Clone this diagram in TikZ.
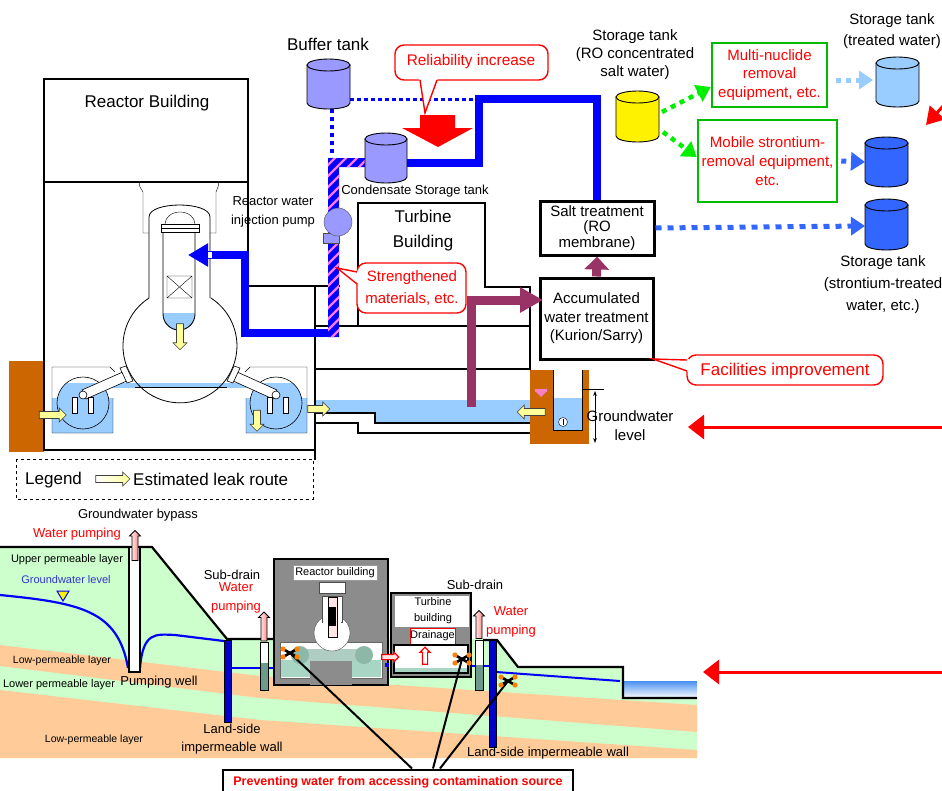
\documentclass[tikz,border=0pt]{standalone}
\usepackage{fontspec}
\setmainfont{Liberation Sans}
\usetikzlibrary{arrows.meta,shapes.arrows}
\definecolor{water}{HTML}{99CCFF}
\definecolor{lilac}{HTML}{9999FF}
\definecolor{leakfill}{HTML}{FFFF99}
\definecolor{soil}{HTML}{CC6600}
\definecolor{plum}{HTML}{993366}
\definecolor{tankblue}{HTML}{3366FF}
\definecolor{boxgreen}{HTML}{00BB00}
\definecolor{dotgreen}{HTML}{00EE00}
\definecolor{permeable}{HTML}{CCFFCC}
\definecolor{clay}{HTML}{FFCC99}
\definecolor{bldggrey}{HTML}{8C8C8C}
\definecolor{pool}{HTML}{A9D5C4}
\definecolor{torusgrey}{HTML}{8DB8A8}
\definecolor{wallblue}{HTML}{0000CC}
\definecolor{gwblue}{HTML}{3333CC}
\definecolor{stripe}{HTML}{FF77EE}
\definecolor{welltone}{HTML}{6E9A8C}
\definecolor{seablue}{HTML}{4A90F0}
\newcommand\fs[2]{\fontsize{#1}{#2}\selectfont}
% cylinder tank: left, right, top, bottom, colour
\newcommand\drum[5]{%
  \pgfmathsetmacro\drumcx{(#1+#2)/2}%
  \pgfmathsetmacro\drumrx{(#2-#1)/2}%
  \filldraw[fill=#5,draw=black,line width=0.9pt] (#1,#3+6) -- (#1,#4-6)
    arc[start angle=180,end angle=360,x radius=\drumrx pt,y radius=6pt] -- (#2,#3+6) -- cycle;
  \filldraw[fill=#5,draw=black,line width=0.9pt] (\drumcx,#3+6) ellipse[x radius=\drumrx pt,y radius=6pt];
}
% contamination source mark
\newcommand\leakmark[1]{%
  \begin{scope}[shift={#1}]
    \draw[line width=2.6pt] (-7,-4) -- (7,4) (-7,4) -- (7,-4);
    \fill[orange] (-7,-4) circle (2.6pt) (7,4) circle (2.6pt) (-7,4) circle (2.6pt) (7,-4) circle (2.6pt);
  \end{scope}}
\tikzset{
  wall/.style={line width=1.3pt},
  leak/.style={single arrow, draw=black!75, fill=leakfill, line width=0.6pt,
    minimum height=#1, inner sep=3.2pt, single arrow head extend=3.5pt},
  pumpup/.style={single arrow, draw=black, line width=0.8pt, left color=white,
    right color=red!55, minimum height=#1, inner sep=2.6pt,
    single arrow head extend=2.5pt, rotate=90},
  callout/.style={draw=red, line width=1.4pt, fill=white, rounded corners=9pt},
  flow/.style={line width=8pt, blue},
  plumflow/.style={line width=9pt, plum},
  dotflow/.style={line width=4.5pt, dash pattern=on 5pt off 5pt},
  bigred/.style={red, line width=3pt, -{Triangle[length=16pt,width=24pt]}},
  lbl/.style={inner sep=0pt, align=center},
  procbox/.style={draw, line width=3pt, fill=white, inner sep=0pt, align=center},
  greenbox/.style={draw=boxgreen, line width=2.5pt, fill=white, inner sep=0pt,
    align=center, text=red},
  thinline/.style={line width=0.6pt},
}
\begin{document}
\begin{tikzpicture}[x=1pt,y=-1pt]
\clip (0,0) rectangle (942,790);
\fill[white] (0,0) rectangle (942,790);

%% ---------------- reactor building (section) ----------------
\fill[soil] (9,361) rectangle (44,452);
\begin{scope}
  \clip (40,383) rectangle (320,440);
  \fill[water] (83,403) circle (26pt) (276,403) circle (26pt);
\end{scope}
\fill[water] (52,398) rectangle (113,433) (246,398) rectangle (307,433);
\fill[water] (110,383) rectangle (250,388);

\draw[wall] (44,79) rectangle (248,182);
\node[lbl, font=\fs{17}{20}] (rbtitle) at (147,103) {Reactor Building};
\draw[wall] (44,182) -- (44,450) -- (315,450);
\draw[wall] (248,182) -- (248,286) -- (340,286);
\draw[wall] (315,286) -- (315,460);

% shield plug opening
\draw (139,182) -- (140,187) -- (143,192) -- (143,233) -- (149,233);
\draw (219,182) -- (218,187) -- (216,192) -- (216,233) -- (210,233);
% drywell
\draw[line width=0.8pt] (210,298) -- (210,217) .. controls (210,201) and (149,201) .. (149,217)
  -- (149,298) arc[start angle=122.9,end angle=417.1,radius=57pt];
\draw (135,387) -- (227,387);
% suppression chambers
\draw (113,398) -- (113,433) -- (52,433) -- (52,367) -- (110,367) -- (115,372);
\draw (246,398) -- (246,433) -- (307,433) -- (307,367) -- (250,367) -- (245,372);
\draw[thinline] (83,403) circle (26pt) (276,403) circle (26pt);
\filldraw[fill=white, thinline] (125,371) -- (129,380) -- (86,399) -- (82,390) -- cycle;
\filldraw[fill=white, thinline] (235,371) -- (231,380) -- (273,399) -- (277,390) -- cycle;
\filldraw[fill=white, thinline] (120,368) -- (126,366) -- (133,381) -- (127,383) -- cycle;
\filldraw[fill=white, thinline] (240,368) -- (234,366) -- (227,381) -- (233,383) -- cycle;
\filldraw[fill=white, thinline] (72,397) rectangle (77,413) (88,397) rectangle (93,413);
\filldraw[fill=white, thinline] (267,397) rectangle (272,413) (283,397) rectangle (288,413);
\filldraw[fill=white, thinline] (83,395) circle (4pt) (276,395) circle (4pt);
% pressure vessel
\fill[water] (163,313) -- (163,314) arc[start angle=180,end angle=360,radius=16pt] -- (195,313) -- cycle;
\draw[line width=0.9pt] (163,232) -- (163,314) arc[start angle=180,end angle=360,radius=16pt] -- (195,232);
\draw (165,224) arc[start angle=180,end angle=0,x radius=15pt,y radius=12pt];
\filldraw[fill=white, line width=0.9pt] (161,224) rectangle (199,232);
\draw (161,228) -- (199,228);
\draw (167,276) rectangle (192,298) (167,276) -- (192,298) (167,298) -- (192,276);

%% ---------------- turbine building and trench ----------------
\fill[water] (316,400) -- (530,400) -- (530,423) -- (375,423) -- (375,413) -- (316,413) -- cycle;
\draw[wall] (316,369) -- (530,369);
\draw[wall] (316,413) -- (375,413) -- (375,423) -- (530,423);
\draw[wall] (316,423) -- (358,423) -- (358,433) -- (530,433);
\draw[wall] (358,326) -- (358,203) -- (485,203) -- (485,287) -- (530,287) -- (530,370);
\draw[wall] (316,326) -- (530,326);
\node[lbl, font=\fs{17}{25}] (tbtxt) at (423,231) {Turbine\\Building};

% pit next to the turbine building
\fill[soil] (530,370) rectangle (589,444);
\fill[white] (553,370) rectangle (582,430);
\fill[water] (553,398) rectangle (582,430);
\draw (553,370) -- (553,430) -- (582,430) -- (582,370);
\fill[magenta!50] (535,389) rectangle (547,392);
\fill[magenta!50] (536,392) -- (546,392) -- (541,397) -- cycle;
\draw[fill=white] (563,422) circle (4.5pt);
\draw (563,419) -- (563,425);
\draw[line width=0.8pt] (582,389) -- (604,389);
\draw[line width=0.8pt, {Stealth[length=5pt]}-{Stealth[length=5pt]}] (595,391) -- (595,443);
\node[lbl, font=\fs{15}{19}] (gwl) at (630,426) {Groundwater\\level};

% leak routes
\node[leak=27pt] (lk1) at (51,415) {};
\node[leak=26pt, rotate=-90] (lk2) at (180,335) {};
\node[leak=21pt, rotate=-90] (lk3) at (257,419) {};
\node[leak=22pt] (lk4) at (317,409) {};
\node[leak=28pt, rotate=180] (lk5) at (533,412) {};

%% ---------------- water circulation ----------------
\node[procbox, minimum width=114pt, minimum height=54pt, font=\fs{15}{15.5}] (salt)
  at (597,228) {Salt treatment\\(RO\\membrane)};
\node[procbox, minimum width=113pt, minimum height=81pt, font=\fs{15}{18.5}] (kur)
  at (596.5,318.5) {Accumulated\\water treatment\\(Kurion/Sarry)};

\coordinate (cstout) at (407,163);
\draw[flow] (cstout) -- (479,163) -- (479,99) -- (597,99) -- (salt.north);
\draw[blue, line width=3pt, dash pattern=on 3.5pt off 3.5pt] (350,99) -- (475,99);
\draw[blue, line width=4pt, dash pattern=on 4pt off 4pt] (332,109) -- (332,157);

% injection line into the vessel
\coordinate (injfrom) at (339,333);
\coordinate (injto) at (188,255);
\draw[flow, -{Triangle[length=20pt,width=22pt]}] (injfrom) -- (245,333) -- (245,255) -- (injto);
\fill[white] (208,252) rectangle (212,258);

% hose with reinforced material
\begin{scope}
  \clip (328,158) rectangle (339,337) (328,158) rectangle (368,167);
  \fill[blue] (320,150) rectangle (370,340);
  \foreach \k in {150,161,...,400} \draw[stripe, line width=2.2pt] (320,\k+12) -- (375,\k-43);
\end{scope}

% pump and tanks
\filldraw[fill=lilac, draw=black!70] (323,233) rectangle (339,243);
\filldraw[fill=lilac, draw=black!70] (338,222) circle (14pt);
\drum{307}{350}{59}{109}{lilac}
\drum{365}{407}{133}{183}{lilac}
\node[lbl, font=\fs{17}{20}] (buftxt) at (328,44) {Buffer tank};
\node[lbl, font=\fs{13}{15}] (csttxt) at (415,191) {Condensate Storage tank};
\node[lbl, font=\fs{13}{19}] (pumptxt) at (273,212) {Reactor water\\injection pump};

% reliability increase
\fill[red] (420,115) -- (455,115) -- (455,128) -- (473,128) -- (438,147) -- (402,128) -- (420,128) -- cycle;
\draw[callout] (395,45) rectangle (548,80);
\fill[white] (419,78) -- (425,113) -- (438,78) -- cycle;
\draw[red, line width=1.4pt] (420,80) -- (425,113) -- (437,80);
\node[lbl, red, font=\fs{15.4}{18}] (reltxt) at (471,62) {Reliability increase};

% strengthened materials
\draw[callout] (357,263) rectangle (466,313);
\fill[white] (360,271) -- (337,268) -- (360,285) -- cycle;
\draw[red, line width=1.4pt] (357,272) -- (337,268) -- (357,284);
\node[lbl, red, font=\fs{15}{22}] (strtxt) at (412,288) {Strengthened\\materials, etc.};

% treated water path
\coordinate (plumfrom) at (471,407);
\coordinate (plumto) at (543,300);
\draw[plumflow, -{Triangle[length=23pt,width=24pt]}] (plumfrom) -- (471,300) -- (plumto);
\draw[plumflow, -{Triangle[length=13pt,width=24pt]}] (kur.north) -- (salt.south);

% facilities improvement
\draw[callout] (687,355) rectangle (883,385);
\fill[white] (689,359) -- (653,359) -- (689,372) -- cycle;
\draw[red, line width=1.4pt] (687,360) -- (653,359) -- (687,371);
\node[lbl, red, font=\fs{17}{20}] (factxt) at (785,371) {Facilities improvement};

% groundwater inflow arrow
\coordinate (gwin) at (945,427);
\coordinate (gwtip) at (688,427);
\draw[bigred] (gwin) -- (gwtip);

%% ---------------- storage and removal ----------------
\drum{616}{659}{91}{142}{yellow}
\node[lbl, font=\fs{15}{18}] (rotxt) at (635,55) {Storage tank\\(RO concentrated\\salt water)};
\node[greenbox, minimum width=115pt, minimum height=64pt, font=\fs{15}{18.5}] (mnr)
  at (769.5,75) {Multi-nuclide\\removal\\equipment, etc.};
\node[greenbox, minimum width=139pt, minimum height=82pt, font=\fs{15}{19}] (mob)
  at (767.5,161) {Mobile strontium-\\removal equipment,\\etc.};
\coordinate (ro1) at (662,112);
\coordinate (ro2) at (663,132);
\draw[dotflow, dotgreen, -{Triangle[length=14pt,width=18pt]}] (ro1) -- ([yshift=-12pt]mnr.west);
\draw[dotflow, dotgreen, -{Triangle[length=14pt,width=18pt]}] (ro2) -- ([shift={(0pt,4pt)}]mob.west);

\drum{876}{919}{57}{107}{water}
\drum{865}{908}{137}{187}{tankblue}
\drum{865}{908}{199}{250}{tankblue}
\coordinate (tw) at (873,80);
\coordinate (sr1) at (865,162);
\coordinate (sr2) at (865,226);
\draw[water, line width=5pt, dash pattern=on 5pt off 5pt, -{Triangle[length=14pt,width=18pt]}]
  ([shift={(8pt,-5pt)}]mnr.east) -- (tw);
\draw[tankblue, line width=5pt, dash pattern=on 5pt off 5pt, -{Triangle[length=14pt,width=18pt]}]
  ([xshift=3pt]mob.east) -- (sr1);
\draw[tankblue, line width=5pt, dash pattern=on 6pt off 6pt, -{Triangle[length=14pt,width=18pt]}]
  (salt.east) -- (sr2);
\node[lbl, font=\fs{15}{21}] (twtxt) at (892,31) {Storage tank\\(treated water)};
\node[lbl, font=\fs{15}{22}] (srtxt) at (883,285) {Storage tank\\(strontium-treated\\water, etc.)};
\coordinate (rin) at (953,95);
\coordinate (rtip) at (926,125);
\draw[red, line width=3pt, -{Triangle[length=17pt,width=20pt]}] (rin) -- (rtip);

%% ---------------- legend ----------------
\draw[line width=0.8pt, dash pattern=on 3pt off 3pt] (16,459) rectangle (313,499);
\node[lbl, font=\fs{17}{20}, anchor=west] (legend) at (25,480) {Legend};
\node[leak=34pt, left color=white, right color=leakfill] (legar) at (111,479) {};
\node[lbl, font=\fs{17}{20}, anchor=west] (legtxt) at (133,479) {Estimated leak route};

%% ---------------- ground section ----------------
\fill[permeable] (0,547) -- (152,547) -- (227,639) -- (483,639) -- (497,640) -- (518,667)
  -- (623,667) -- (623,698) -- (697,698) -- (697,758) -- (0,758) -- cycle;
\fill[clay] (0,645) -- (260,676) -- (697,705) -- (697,732) -- (260,698) -- (0,666) -- cycle;
\fill[clay] (0,690) -- (260,720) -- (697,750) -- (697,758) -- (0,758) -- cycle;
\shade[top color=seablue, bottom color=white] (623,681) rectangle (697,698);
\draw[line width=2.2pt] (0,547) -- (152,547) -- (227,639) -- (274,639);
\draw[line width=2.2pt] (483,640) -- (497,640) -- (518,667) -- (623,667) -- (623,698) -- (697,698);

% groundwater table
\draw[blue, line width=2.2pt] (0,595) .. controls (80,603) and (118,610) .. (128,668);
\draw[blue, line width=2.2pt] (140,668) .. controls (143,632) and (155,634) .. (175,635) -- (224,641);
\draw[blue, line width=2pt] (231,668) -- (274,668);
\draw[blue, line width=2pt] (468,666) -- (489,666);
\draw[blue, line width=2pt] (496,672) -- (620,681);
\filldraw[fill=yellow, draw=blue, line width=1pt] (57,591) -- (69,591) -- (63,601) -- cycle;

% wells and walls
\filldraw[fill=white, line width=1.2pt] (129,547) rectangle (140,672);
\fill[white] (260,642) rectangle (268,663);
\fill[welltone] (260,663) rectangle (268,690);
\draw (260,642) rectangle (268,690);
\fill[white] (475,640) rectangle (483,665);
\fill[welltone] (475,665) rectangle (483,690);
\draw (475,640) rectangle (483,690);
\filldraw[fill=wallblue, draw=black, line width=0.8pt] (224,640) rectangle (231,722);
\filldraw[fill=wallblue, draw=black, line width=0.8pt] (489,640) rectangle (496,747);
\node[pumpup=30pt] (pw1) at (135,547) {};
\node[pumpup=29pt] (pw2) at (264,628) {};
\node[pumpup=28pt] (pw3) at (479,626) {};

% reactor building (small)
\filldraw[fill=bldggrey, draw=black, line width=2pt] (274,559) rectangle (388,685);
\filldraw[fill=white, draw=black!60, line width=0.5pt] (280,642) rectangle (382,678);
\fill[pool] (281,660) rectangle (381,677);
\fill[torusgrey!70] (300,649) rectangle (364,661);
\fill[bldggrey] (310,661) rectangle (352,685);
\fill[torusgrey] (300,655) circle (9pt) (364,655) circle (9pt);
\filldraw[fill=white, draw=black!70] (332,633) circle (18pt);
\filldraw[fill=white, draw=black!70] (322,596) rectangle (342,622);
\fill[white] (323,615) rectangle (341,625);
\filldraw[fill=white, draw=black!70] (319,582) rectangle (345,593);
\filldraw[fill=pink!40, draw=black] (328,597) rectangle (337,637);
\fill[black] (329,607) rectangle (336,626);
\node[draw=black!40, fill=white, inner sep=0pt, font=\fs{11}{13}, minimum width=84pt,
  minimum height=15pt] (rbl) at (335,572.5) {Reactor building};

% turbine building (small)
\filldraw[fill=bldggrey, draw=black, line width=2pt] (391,593) rectangle (471,677);
\fill[white] (395,596) rectangle (469,627);
\node[lbl, font=\fs{11}{16}] (tbl) at (433,611) {Turbine\\building};
\node[draw=red, fill=white, line width=1pt, inner sep=0pt, minimum width=45pt,
  minimum height=16pt, font=\fs{11}{13}] (drain) at (432.5,636) {Drainage};
\filldraw[fill=white, draw=black, line width=1.2pt] (394,645) rectangle (468,673);
\fill[pool] (395,668) rectangle (467,672);
\node[single arrow, draw=red, fill=white, line width=1.2pt, minimum height=17pt, inner sep=2pt,
  single arrow head extend=2.5pt, rotate=90] (drup) at (425,657) {};
\node[single arrow, draw=red, fill=pink!40, line width=1.2pt, minimum height=17pt, inner sep=2pt,
  single arrow head extend=2.5pt] (leakr) at (389,657) {};
\fill[blue] (385,663) rectangle (389,667);

% contamination sources and their label
\node[draw, line width=2pt, fill=white, minimum width=350pt, minimum height=25pt, inner sep=0pt,
  text=red, font=\bfseries\fs{12.5}{15}] (prev) at (398,782)
  {Preventing water from accessing contamination source};
\coordinate (m1) at (290,653);
\coordinate (m2) at (462,659);
\coordinate (m3) at (508,681);
\draw[line width=2pt] (m1) -- ([xshift=14pt]prev.north);
\draw[line width=2pt] (m2) -- ([xshift=35pt]prev.north);
\draw[line width=2pt] (m3) -- ([xshift=42pt]prev.north);
\leakmark{(290,653)}
\leakmark{(462,659)}
\leakmark{(508,681)}

% labels of the ground section
\node[lbl, font=\fs{13}{15}] (gwb) at (138,515) {Groundwater bypass};
\node[lbl, red, font=\fs{13}{15}] (wp1) at (77,534) {Water pumping};
\node[lbl, font=\fs{11}{13}] (upl) at (67,560) {Upper permeable layer};
\node[lbl, text=gwblue, font=\fs{11}{13}] (gwlv) at (66,580) {Groundwater level};
\node[lbl, font=\fs{10.5}{13}] (lpl1) at (62,661) {Low-permeable layer};
\node[lbl, font=\fs{11}{13}] (lpl2) at (59,685) {Lower permeable layer};
\node[lbl, font=\fs{10.5}{13}] (lpl3) at (94,740) {Low-permeable layer};
\node[lbl, font=\fs{13}{15}] (pwl) at (159,682) {Pumping well};
\node[lbl, font=\fs{13}{18}] (lsw1) at (232,739) {Land-side\\impermeable wall};
\node[lbl, font=\fs{13}{15}] (sd1) at (232,575) {Sub-drain};
\node[lbl, red, font=\fs{13}{19}] (wp2) at (236,597.5) {Water\\pumping};
\node[lbl, font=\fs{13}{15}] (sd2) at (475,585) {Sub-drain};
\node[lbl, red, font=\fs{13}{19}] (wp3) at (511,621.5) {Water\\pumping};
\node[lbl, font=\fs{13}{15}] (lsw2) at (548,753) {Land-side impermeable wall};

% seaward inflow arrow
\coordinate (sin) at (945,672);
\coordinate (stip) at (703,672);
\draw[bigred] (sin) -- (stip);
\end{tikzpicture}
\end{document}
